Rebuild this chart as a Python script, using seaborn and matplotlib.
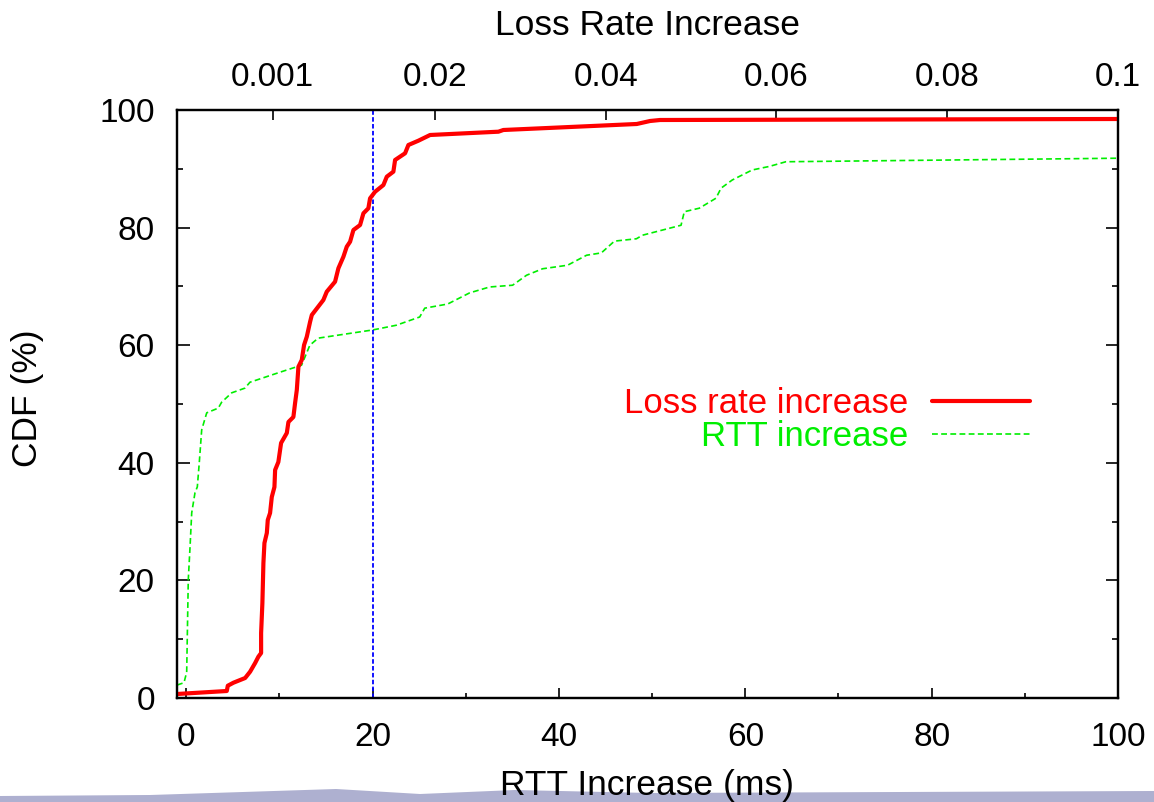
import matplotlib
matplotlib.use("Agg")
import matplotlib.pyplot as plt
from matplotlib.patches import Polygon
import pandas as pd
import seaborn as sns

# RTT increase CDF, bottom axis (ms)
rtt_ms = [-1.0, -0.25, 0.04, 0.21, 0.4, 0.58, 0.93, 1.18, 1.39, 1.65, 2.19, 3.43,
          3.79, 4.87, 6.29, 6.83, 10.04, 12.37, 13.26, 14.15, 20.04, 22.55, 25.05,
          25.59, 28.05, 30.41, 32.55, 35.02, 36.52, 38.24, 40.92, 42.96, 44.55,
          45.95, 48.31, 48.95, 53.1, 53.45, 55.06, 56.85, 57.39, 58.6, 60.74,
          62.57, 64.35, 100.0]
rtt_cdf = [2.2, 2.6, 4.4, 20.1, 25.7, 31.5, 34.9, 35.9, 40.0, 45.6, 48.5, 49.3,
           50.3, 51.9, 52.7, 53.7, 55.4, 56.6, 60.0, 61.2, 62.6, 63.4, 64.8,
           66.3, 67.0, 68.9, 69.9, 70.2, 71.9, 73.0, 73.6, 75.3, 75.7,
           77.7, 78.1, 78.7, 80.4, 82.7, 83.3, 85.0, 86.7, 88.1, 89.8,
           90.4, 91.2, 91.8]

# loss rate increase CDF, top axis
loss_rate = [-0.0102, -0.00437, -0.00425, -0.00359, -0.00222, -0.00164, -0.00105,
             -0.00067, -0.00035, -0.00035, -0.0002, -0.00008, 0.00004, 0.00032,
             0.00043, 0.0007, 0.0009, 0.00121, 0.00129, 0.00167, 0.00199, 0.00226,
             0.00266, 0.00285, 0.00343, 0.00363, 0.00383, 0.00402, 0.00441, 0.00468,
             0.005, 0.00539, 0.00559, 0.00694, 0.00734, 0.00831, 0.0087, 0.00929,
             0.00968, 0.01007, 0.01046, 0.01124, 0.01163, 0.01221, 0.01241, 0.013,
             0.01397, 0.01437, 0.01514, 0.01534, 0.01651, 0.0169, 0.01807, 0.01944,
             0.02744, 0.02802, 0.04364, 0.0452, 0.04637, 0.1]
loss_cdf = [0.68, 1.19, 2.09, 2.6, 3.4, 4.47, 5.95,
            7.02, 7.65, 11.05, 16.16, 22.96, 26.36, 28.06,
            30.27, 31.46, 34.18, 35.88, 38.78, 40.14, 43.37, 44.05,
            45.07, 46.94, 47.79, 50.17, 52.38, 56.34, 57.48, 60.03,
            61.44, 64.0, 65.14, 67.69, 69.1, 70.8, 73.08, 75.05,
            76.75, 77.6, 79.59, 80.44, 82.43, 83.28, 84.98, 86.1,
            87.24, 88.66, 89.51, 91.5, 92.64, 94.05, 94.78, 95.75,
            96.31, 96.6, 97.62, 98.13, 98.3, 98.47]

rtt_ticks = [0, 20, 40, 60, 80, 100]
rtt_minor = [10, 30, 50, 70, 90]
loss_ticks = [0.001, 0.02, 0.04, 0.06, 0.08, 0.1]
loss_labels = ["0.001", "0.02", "0.04", "0.06", "0.08", "0.1"]
cdf_ticks = [0, 20, 40, 60, 80, 100]
cdf_minor = [10, 30, 50, 70, 90]
threshold_ms = 20

sns.set_style("white")
plt.rcParams['font.family'] = ['Liberation Sans', 'DejaVu Sans']
plt.rcParams.update({'text.color': 'black', 'axes.labelcolor': 'black',
                     'xtick.color': 'black', 'ytick.color': 'black'})

df_rtt = pd.DataFrame({"x": rtt_ms, "cdf": rtt_cdf})
df_loss = pd.DataFrame({"x": loss_rate, "cdf": loss_cdf})

fig = plt.figure(figsize=(11.54, 8.02), dpi=100)
ax = fig.add_axes([177 / 1154, 1 - 698 / 802, 941 / 1154, 588 / 802])
ax2 = ax.twiny()

# slide background wave at the bottom
wave = [(0, 802), (0, 796), (150, 795), (336, 789), (420, 794), (515, 790),
        (650, 793), (900, 792), (1154, 791), (1154, 802)]
fig.patches.append(Polygon([(px / 1154, 1 - py / 802) for px, py in wave],
                           closed=True, transform=fig.transFigure,
                           facecolor="#aeb0d0", edgecolor="none", zorder=-10))

sns.lineplot(data=df_rtt, x="x", y="cdf", ax=ax, estimator=None, sort=False,
             color="#00ee00", lw=1.2, linestyle=(0, (3.5, 2)), label="RTT increase")
ax.axvline(threshold_ms, color="#0000ff", lw=1.3, linestyle=(0, (2.5, 1.3)))
sns.lineplot(data=df_loss, x="x", y="cdf", ax=ax2, estimator=None, sort=False,
             color="#ff0000", lw=3, label="Loss rate increase")

ax.set_xlim(-1, 100)
ax.set_ylim(0, 100)
ax2.set_xlim(-0.0102, 0.1)

ax.set_xticks(rtt_ticks)
ax.set_xticks(rtt_minor, minor=True)
ax.set_yticks(cdf_ticks)
ax.set_yticks(cdf_minor, minor=True)
ax2.set_xticks(loss_ticks)
ax2.set_xticklabels(loss_labels)

ax.tick_params(axis='x', which='major', direction='in', length=7.2, width=1.2,
               labelsize=24, pad=17, top=False)
ax.tick_params(axis='x', which='minor', direction='in', length=3.6, width=1.2, top=False)
ax.tick_params(axis='y', which='major', direction='in', length=9, width=1.2,
               labelsize=24, pad=16, left=True, right=True)
ax.tick_params(axis='y', which='minor', direction='in', length=4.5, width=1.2,
               left=True, right=True)
ax2.tick_params(axis='x', which='major', direction='in', length=7.2, width=1.2,
                labelsize=24, pad=12, bottom=False)
ax2.tick_params(axis='x', which='minor', bottom=False, top=False)

for a in (ax, ax2):
    for s in a.spines.values():
        s.set_linewidth(1.6)
        s.set_color("black")

ax.set_xlabel("RTT Increase (ms)", fontsize=25.5)
ax.set_ylabel("CDF (%)", fontsize=25.5)
ax2.set_xlabel("Loss Rate Increase", fontsize=25.5)
ax.xaxis.set_label_coords(0.5, -0.12)
ax.yaxis.set_label_coords(-0.1413, 0.51)
ax2.xaxis.set_label_coords(0.5, 1.128)

if ax.get_legend():
    ax.get_legend().remove()
handles = ax2.get_lines()[:1] + ax.get_lines()[:1]
ax2.legend(handles, ["Loss rate increase", "RTT increase"], loc="center right",
           bbox_to_anchor=(0.9065, 0.473), frameon=False, markerfirst=False,
           fontsize=25, labelcolor="linecolor", handlelength=2.82,
           handletextpad=0.7, labelspacing=0.0, borderpad=0, borderaxespad=0)

fig.savefig("out.png", dpi=100)
